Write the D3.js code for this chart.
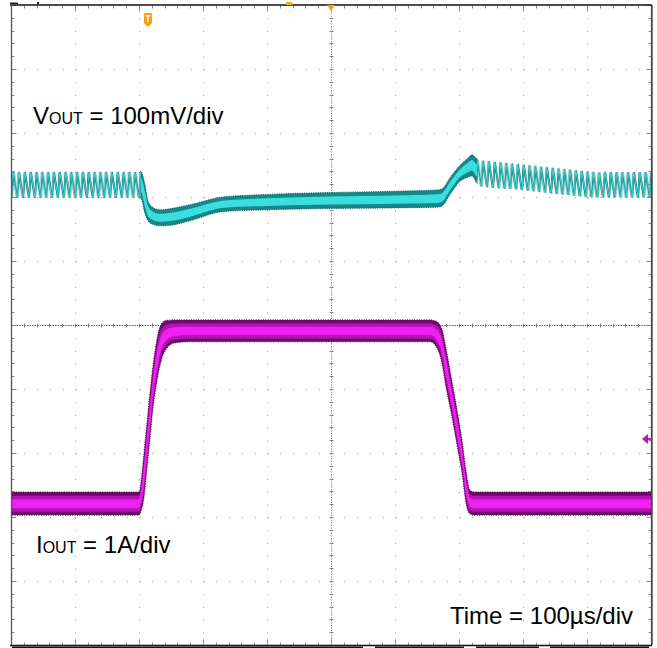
<!DOCTYPE html>
<html>
<head>
<meta charset="utf-8">
<style>
  body { margin: 0; background: #fff; }
  svg { display: block; }
  text { font-family: "Liberation Sans", Arial, sans-serif; fill: #000; }
</style>
</head>
<body>
<script src="https://cdnjs.cloudflare.com/ajax/libs/d3/7.8.5/d3.min.js"></script>
<script>

// time base: 100 us/div over 10 divisions
var timeDomain = [0, 1000];
var divDomain = [-5, 5];

// Vout trace envelope, mV around the set point (100 mV/div)
var voutTime = [0, 100, 203, 209, 214, 220, 233, 250, 280, 330, 400, 500, 600, 665, 672, 688, 702, 714, 720, 728, 735, 795, 858, 920, 1000];
var voutHigh = [21, 21, 21, 2, -25, -34, -39, -37, -31, -19, -15, -12, -10, -8, -7, 14, 31, 42, 47, 41, 39, 34, 27, 21, 20];
var voutLow  = [-21, -21, -21, -44, -56, -61, -64, -63, -56, -42, -39, -37, -36, -35, -34, -12, 6, 12, 14, 3, -3, -8, -15, -20, -20];

// Iout trace envelope, A (1 A/div)
var ioutTime = [0, 200, 204, 208, 212, 217, 222, 228, 234, 242, 255, 280, 655, 664, 673, 680, 688, 697, 705, 711, 717, 723, 1000];
var ioutHigh = [0.17, 0.17, 0.4, 0.8, 1.2, 1.7, 2.15, 2.55, 2.78, 2.85, 2.86, 2.86, 2.86, 2.84, 2.72, 2.4, 1.95, 1.45, 0.95, 0.5, 0.2, 0.17, 0.17];
var ioutLow  = [-0.19, -0.19, -0.1, 0.1, 0.5, 1.0, 1.5, 1.9, 2.2, 2.4, 2.5, 2.52, 2.52, 2.45, 2.2, 1.8, 1.4, 0.9, 0.45, 0.0, -0.17, -0.19, -0.19];

// channel positions (divisions from centre), trigger settings
var voutPos = 2.19;
var ioutPos = -2.78;
var triggerTime = 214;
var triggerLevel = 1.0;
// switching ripple shows only at light load
var rippleEnd = 203;
var rippleStart = 728;
var settled = 920;

var voutLabel = ["V", "OUT", " = 100mV/div"];
var ioutLabel = ["I", "OUT", " = 1A/div"];
var timeLabel = "Time = 100\u00b5s/div";

var W = 657, H = 648;

var x = d3.scaleLinear().domain(timeDomain).range([11, 651]);
var y = d3.scaleLinear().domain(divDomain).range([645, 5]);

function vY(mv) { return y(voutPos + mv / 100); }
function iY(a) { return y(ioutPos + a); }

var svg = d3.select("body").append("svg")
    .attr("width", W)
    .attr("height", H);

var defs = svg.append("defs");

function clipRect(id, x0, x1) {
  defs.append("clipPath").attr("id", id)
    .append("rect").attr("x", x0).attr("y", 0)
      .attr("width", x1 - x0).attr("height", H);
}
clipRect("plot", x(0), x(1000));
clipRect("ripClipA", x(0), x(rippleEnd));
clipRect("ripClipB", x(rippleStart), x(settled));
clipRect("ripClipC", x(settled) - 0.2, x(1000));
clipRect("solidClip", x(rippleEnd) - 0.5, x(rippleStart) + 0.5);

// zig-zag texture for the ripple band
function ripplePattern(id, top, h, skew) {
  var p = defs.append("pattern")
      .attr("id", id)
      .attr("patternUnits", "userSpaceOnUse")
      .attr("x", 0).attr("y", top)
      .attr("width", 5.8).attr("height", h);
  if (skew) p.attr("patternTransform", "skewY(" + skew + ")");
  var zz = "M0," + (h - 1) + " L1.7,1 L5.8," + (h - 1);
  p.append("path").attr("d", zz).attr("fill", "none")
    .attr("stroke", "#0f6a6a").attr("stroke-width", 2.1);
  p.append("path").attr("d", zz).attr("fill", "none")
    .attr("stroke", "#2fd0d0").attr("stroke-width", 1.1);
}
ripplePattern("ripA", vY(22), vY(-22) - vY(22), 0);
// after the overshoot the band slides back down slowly
ripplePattern("ripB", vY(40) - 0.105 * x(735), vY(-5) - vY(40), 6.0);

var gridG = svg.append("g").attr("transform", "translate(0.5,0.5)");

// dotted major grid
var majorT = x.ticks(10).filter(function(d) { return d > 0 && d < 1000 && d !== 500; });
var majorD = y.ticks(10).filter(function(d) { return d > -5 && d < 5 && d !== 0; });

gridG.selectAll(".vgrid").data(majorT).enter().append("line")
    .attr("x1", function(d) { return Math.round(x(d)); })
    .attr("x2", function(d) { return Math.round(x(d)); })
    .attr("y1", y(5)).attr("y2", y(-5))
    .attr("stroke", "#8f8f8f")
    .attr("stroke-dasharray", "1,11.8");

gridG.selectAll(".hgrid").data(majorD).enter().append("line")
    .attr("y1", function(d) { return Math.round(y(d)); })
    .attr("y2", function(d) { return Math.round(y(d)); })
    .attr("x1", x(0)).attr("x2", x(1000))
    .attr("stroke", "#8f8f8f")
    .attr("stroke-dasharray", "1,11.8");

// centre cross, finer dots plus small ticks
gridG.append("line")
    .attr("x1", x(500)).attr("x2", x(500))
    .attr("y1", y(5)).attr("y2", y(-5))
    .attr("stroke", "#666").attr("stroke-dasharray", "1,1.56");
gridG.append("line")
    .attr("y1", y(0)).attr("y2", y(0))
    .attr("x1", x(0)).attr("x2", x(1000))
    .attr("stroke", "#555").attr("stroke-dasharray", "1.5,1.06");

var minorT = x.ticks(50);
var minorD = y.ticks(50);

gridG.selectAll(".ctx").data(minorT).enter().append("line")
    .attr("x1", function(d) { return Math.round(x(d)); })
    .attr("x2", function(d) { return Math.round(x(d)); })
    .attr("y1", y(0) - 2).attr("y2", y(0) + 2)
    .attr("stroke", "#888");
gridG.selectAll(".cty").data(minorD).enter().append("line")
    .attr("y1", function(d) { return Math.round(y(d)); })
    .attr("y2", function(d) { return Math.round(y(d)); })
    .attr("x1", x(500) - 2).attr("x2", x(500) + 2)
    .attr("stroke", "#888");

// ticks on the frame
gridG.selectAll(".topTick").data(minorT).enter().append("line")
    .attr("x1", function(d) { return Math.round(x(d)); })
    .attr("x2", function(d) { return Math.round(x(d)); })
    .attr("y1", y(5)).attr("y2", function(d) { return y(5) + (d % 100 === 0 ? 6 : 3); })
    .attr("stroke", "#8a8a8a");
gridG.selectAll(".botTick").data(minorT).enter().append("line")
    .attr("x1", function(d) { return Math.round(x(d)); })
    .attr("x2", function(d) { return Math.round(x(d)); })
    .attr("y1", y(-5)).attr("y2", function(d) { return y(-5) - (d % 100 === 0 ? 6 : 3); })
    .attr("stroke", "#8a8a8a");
gridG.selectAll(".leftTick").data(minorD).enter().append("line")
    .attr("y1", function(d) { return Math.round(y(d)); })
    .attr("y2", function(d) { return Math.round(y(d)); })
    .attr("x1", x(0)).attr("x2", function(d) { return x(0) + (Math.abs(d % 1) < 1e-6 ? 5 : 3); })
    .attr("stroke", "#8a8a8a");
gridG.selectAll(".rightTick").data(minorD).enter().append("line")
    .attr("y1", function(d) { return Math.round(y(d)); })
    .attr("y2", function(d) { return Math.round(y(d)); })
    .attr("x1", x(1000)).attr("x2", function(d) { return x(1000) - (Math.abs(d % 1) < 1e-6 ? 5 : 3); })
    .attr("stroke", "#8a8a8a");

// traces
var traces = svg.append("g").attr("clip-path", "url(#plot)");

var vRows = voutTime.map(function(t, i) { return { t: t, hi: voutHigh[i], lo: voutLow[i] }; });
var iRows = ioutTime.map(function(t, i) { return { t: t, hi: ioutHigh[i], lo: ioutLow[i] }; });

function band(yf, a, b) {
  return d3.area()
    .curve(d3.curveMonotoneX)
    .x(function(d) { return x(d.t); })
    .y0(function(d) { return yf(d.lo + (d.hi - d.lo) * a); })
    .y1(function(d) { return yf(d.lo + (d.hi - d.lo) * b); });
}

// Iout
traces.append("path").datum(iRows)
    .attr("d", band(iY, 0, 1))
    .attr("fill", "#6e0a6e")
    .attr("stroke", "#5a0a5a").attr("stroke-width", 1.2)
    .attr("stroke-dasharray", "1,1.4");
traces.append("path").datum(iRows)
    .attr("d", band(iY, 0.14, 0.84))
    .attr("fill", "#b313b3");
traces.append("path").datum(iRows)
    .attr("d", band(iY, 0.3, 0.68))
    .attr("fill", "#f020f0");

// Vout, loaded part (solid band)
var solid = traces.append("g").attr("clip-path", "url(#solidClip)");
solid.append("path").datum(vRows)
    .attr("d", band(vY, 0, 1))
    .attr("fill", "#168686")
    .attr("stroke", "#0b5a5a").attr("stroke-width", 1)
    .attr("stroke-dasharray", "1,1.3");
solid.append("path").datum(vRows)
    .attr("d", band(vY, 0.25, 0.75))
    .attr("fill", "#3adede");

// Vout, light load with ripple
var early = vRows.filter(function(d) { return d.t <= rippleEnd + 6; });
var late = vRows.filter(function(d) { return d.t >= rippleStart - 10; });
traces.append("g").attr("clip-path", "url(#ripClipA)")
  .append("path").datum(early)
    .attr("d", band(vY, 0, 1))
    .attr("fill", "url(#ripA)");
traces.append("g").attr("clip-path", "url(#ripClipB)")
  .append("path").datum(late)
    .attr("d", band(vY, 0, 1))
    .attr("fill", "url(#ripB)");
traces.append("g").attr("clip-path", "url(#ripClipC)")
  .append("path").datum(late)
    .attr("d", band(vY, 0, 1))
    .attr("fill", "url(#ripA)");

// frame
var frame = svg.append("g");
frame.append("line").attr("x1", x(0) - 1).attr("x2", x(1000) + 1)
    .attr("y1", y(5)).attr("y2", y(5))
    .attr("stroke", "#111").attr("stroke-width", 1.6);
frame.append("line").attr("x1", x(0) - 1).attr("x2", x(1000) + 1)
    .attr("y1", y(-5) + 0.5).attr("y2", y(-5) + 0.5)
    .attr("stroke", "#111").attr("stroke-width", 1.6);
frame.append("line").attr("x1", x(0) + 0.5).attr("x2", x(0) + 0.5)
    .attr("y1", y(5)).attr("y2", y(-5))
    .attr("stroke", "#555").attr("stroke-width", 1.3);
frame.append("line").attr("x1", x(1000) + 0.8).attr("x2", x(1000) + 0.8)
    .attr("y1", y(5)).attr("y2", y(-5))
    .attr("stroke", "#444").attr("stroke-width", 1.8);

// status bars under the screen
var barSegs = [[12, 363], [375, 464], [476, 539], [550, 649]];
frame.selectAll(".bar").data(barSegs).enter().append("rect")
    .attr("x", function(d) { return d[0]; })
    .attr("width", function(d) { return d[1] - d[0]; })
    .attr("y", 646.5).attr("height", 1.5)
    .attr("fill", "#111");
frame.append("rect").attr("x", 10).attr("y", 2.5).attr("width", 8).attr("height", 1.5).attr("fill", "#222");
frame.append("rect").attr("x", 37).attr("y", 2).attr("width", 2).attr("height", 2.5).attr("fill", "#222");

// markers
var tx = x(triggerTime);
var mk = svg.append("g");
mk.append("path")
    .attr("d", "M" + (tx - 4) + ",14 Q" + (tx - 4) + ",13 " + (tx - 3) + ",13 L" + (tx + 3) + ",13 Q" + (tx + 4) + ",13 " + (tx + 4) + ",14 L" + (tx + 4) + ",23 L" + tx + ",27 L" + (tx - 4) + ",23 Z")
    .attr("fill", "#ff9a0a");
mk.append("rect").attr("x", tx - 2.5).attr("y", 15).attr("width", 5).attr("height", 1.6).attr("fill", "#fff");
mk.append("rect").attr("x", tx - 0.8).attr("y", 15).attr("width", 1.6).attr("height", 7).attr("fill", "#fff");

mk.append("path")
    .attr("d", "M" + (x(500) - 4) + "," + y(5) + " L" + (x(500) + 4) + "," + y(5) + " L" + x(500) + "," + (y(5) + 6) + " Z")
    .attr("fill", "#ff9a0a");
mk.append("rect").attr("x", x(430)).attr("y", 2).attr("width", 6).attr("height", 3).attr("fill", "#ffaa22");

var ly = iY(triggerLevel);
mk.append("path")
    .attr("d", "M" + (x(1000) - 9) + "," + ly + " L" + (x(1000) - 3) + "," + (ly - 5) + " L" + (x(1000) - 3) + "," + (ly + 5) + " Z")
    .attr("fill", "#c010c0");
mk.append("line").attr("x1", x(1000) - 4).attr("x2", x(1000) + 1)
    .attr("y1", ly).attr("y2", ly)
    .attr("stroke", "#c010c0").attr("stroke-width", 2);

// labels
function label(parts, lx, ly2) {
  var t = svg.append("text").attr("x", lx).attr("y", ly2).style("font-size", "24px");
  t.append("tspan").text(parts[0]);
  t.append("tspan").style("font-size", "16px").text(parts[1]);
  t.append("tspan").text(parts[2]);
}
label(voutLabel, 33, 124);
label(ioutLabel, 36, 553);

svg.append("text")
    .attr("x", 450).attr("y", 624)
    .style("font-size", "24px")
    .text(timeLabel);

</script>
</body>
</html>
